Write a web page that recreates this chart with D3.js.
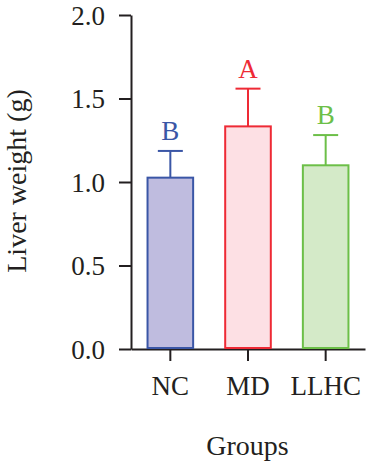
<!DOCTYPE html>
<html><head><meta charset="utf-8">
<script src="https://cdn.jsdelivr.net/npm/d3@7"></script>
<style>body{margin:0;background:#fff}svg{display:block}text{font-family:"Liberation Serif","DejaVu Serif",serif;fill:#231f20}</style>
</head><body>
<svg id="c" width="366" height="465"></svg>
<script>
const categories = ["NC", "MD", "LLHC"];
const means = [1.026, 1.333, 1.10];
const errors = [0.160, 0.226, 0.181];
const letters = ["B", "A", "B"];
const yTicks = [0.0, 0.5, 1.0, 1.5, 2.0];
const strokeColors = ["#3a56a6", "#ee2a35", "#6cbf48"];
const fillColors = ["#bfbcdf", "#fde0e4", "#d4eac8"];

const svg = d3.select("#c");
const axisX0 = 131, axisX1 = 365, yTop = 15, yBot = 349;
const y = d3.scaleLinear().domain([0, 2]).range([yBot, yTop]);
const x = d3.scaleBand().domain(categories).range([axisX0, axisX1]).paddingInner(0.387).paddingOuter(0.2);

const ink = "#231f20";
// Y axis
const gy = svg.append("g").attr("transform", `translate(${axisX0},0)`)
  .call(d3.axisLeft(y).tickValues(yTicks).tickFormat(d3.format(".1f")).tickSize(12).tickSizeOuter(0));
gy.select(".domain").attr("stroke", ink).attr("stroke-width", 2);
gy.selectAll(".tick line").attr("stroke", ink).attr("stroke-width", 2);
gy.selectAll(".tick text").attr("font-size", 27).attr("x", -26).attr("dy", "0.34em")
  .style("font-family", '"Liberation Serif", serif').attr("fill", ink);

// X axis
const gx = svg.append("g").attr("transform", `translate(0,${yBot})`)
  .call(d3.axisBottom(x).tickSize(12).tickSizeOuter(0));
gx.select(".domain").attr("stroke", ink).attr("stroke-width", 2);
gx.selectAll(".tick line").attr("stroke", ink).attr("stroke-width", 2);
gx.selectAll(".tick text").attr("font-size", 27).attr("y", 46).attr("dy", 0)
  .style("font-family", '"Liberation Serif", serif').attr("fill", ink);

// Bars
const bw = x.bandwidth();
const g = svg.append("g");
categories.forEach((c, i) => {
  const cx = x(c) + bw / 2;
  g.append("line").attr("x1", cx).attr("x2", cx)
    .attr("y1", y(means[i])).attr("y2", y(means[i] + errors[i]))
    .attr("stroke", strokeColors[i]).attr("stroke-width", 2);
  g.append("line").attr("x1", cx - 12.5).attr("x2", cx + 12.5)
    .attr("y1", y(means[i] + errors[i])).attr("y2", y(means[i] + errors[i]))
    .attr("stroke", strokeColors[i]).attr("stroke-width", 2);
  g.append("rect").attr("x", x(c) + 1).attr("width", bw - 2)
    .attr("y", y(means[i])).attr("height", y(0) - y(means[i]) - 1)
    .attr("fill", fillColors[i]).attr("stroke", strokeColors[i]).attr("stroke-width", 2);
  g.append("text").attr("x", cx).attr("y", y(means[i] + errors[i]) - 11)
    .attr("text-anchor", "middle").attr("font-size", 27)
    .style("fill", strokeColors[i]).text(letters[i]);
});

// Axis titles
svg.append("text").attr("transform", "translate(26,181) rotate(-90)")
  .attr("text-anchor", "middle").attr("font-size", 28).text("Liver weight (g)");
svg.append("text").attr("x", 247.5).attr("y", 455)
  .attr("text-anchor", "middle").attr("font-size", 28).text("Groups");
</script>
</body></html>
